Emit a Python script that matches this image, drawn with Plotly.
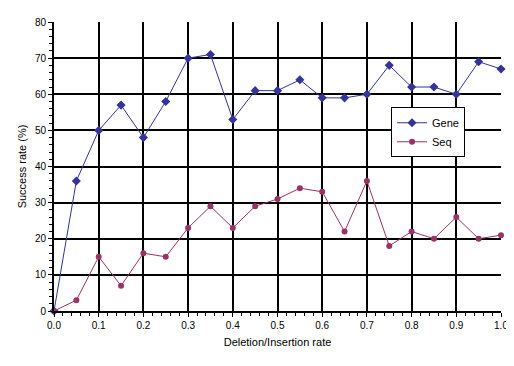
import plotly.graph_objects as go

x_vals = [0.0, 0.05, 0.1, 0.15, 0.2, 0.25, 0.3, 0.35, 0.4, 0.45, 0.5,
          0.55, 0.6, 0.65, 0.7, 0.75, 0.8, 0.85, 0.9, 0.95, 1.0]
gene = [0, 36, 50, 57, 48, 58, 70, 71, 53, 61, 61, 64, 59, 59, 60, 68, 62, 62, 60, 69, 67]
seq = [0, 3, 15, 7, 16, 15, 23, 29, 23, 29, 31, 34, 33, 22, 36, 18, 22, 20, 26, 20, 21]
x_ticks = [0.0, 0.1, 0.2, 0.3, 0.4, 0.5, 0.6, 0.7, 0.8, 0.9, 1.0]
x_tick_labels = ["0.0", "0.1", "0.2", "0.3", "0.4", "0.5", "0.6", "0.7", "0.8", "0.9", "1.0"]
y_ticks = [0, 10, 20, 30, 40, 50, 60, 70, 80]

fig = go.Figure()
fig.add_trace(go.Scatter(
    x=x_vals, y=gene, name="Gene", mode="lines+markers",
    line=dict(color="#333399", width=1),
    marker=dict(symbol="diamond", size=7, color="#333399"),
    cliponaxis=False,
))
fig.add_trace(go.Scatter(
    x=x_vals, y=seq, name="Seq", mode="lines+markers",
    line=dict(color="#993366", width=1),
    marker=dict(symbol="circle", size=6, color="#993366"),
    cliponaxis=False,
))

font = dict(family="Liberation Sans, Arial, sans-serif", size=10, color="black")

# page body has an 8px margin, so the figure is sized to fit 514x366 window
fig.update_layout(
    width=506, height=358,
    margin=dict(l=46, r=13, t=14, b=55),
    paper_bgcolor="white", plot_bgcolor="white",
    font=font,
    showlegend=True,
    legend=dict(
        x=0.754, y=0.705, xanchor="left", yanchor="top",
        bgcolor="white", bordercolor="black", borderwidth=1,
        font=dict(family="Liberation Sans, Arial, sans-serif", size=11, color="black"),
        entrywidth=48,
    ),
    xaxis=dict(
        range=[0, 1.0], tickvals=x_ticks, ticktext=x_tick_labels,
        automargin=False,
        showgrid=True, gridcolor="black", gridwidth=2,
        showline=True, linecolor="black", linewidth=2, mirror=False,
        ticks="outside", ticklen=4, tickcolor="black",
        minor=dict(dtick=0.02, ticks="outside", ticklen=3, tickcolor="black", showgrid=False),
        zeroline=False,
        title=dict(text="Deletion/Insertion rate", font=dict(size=11), standoff=8),
    ),
    yaxis=dict(
        range=[0, 80], tickvals=y_ticks,
        automargin=False,
        showgrid=True, gridcolor="black", gridwidth=2,
        showline=True, linecolor="black", linewidth=2,
        ticks="outside", ticklen=4, tickcolor="black",
        minor=dict(dtick=2, ticks="outside", ticklen=3, tickcolor="black", showgrid=False),
        zeroline=False,
        title=dict(text="Success rate (%)", font=dict(size=11), standoff=6),
    ),
)

fig.write_html("out.html")
